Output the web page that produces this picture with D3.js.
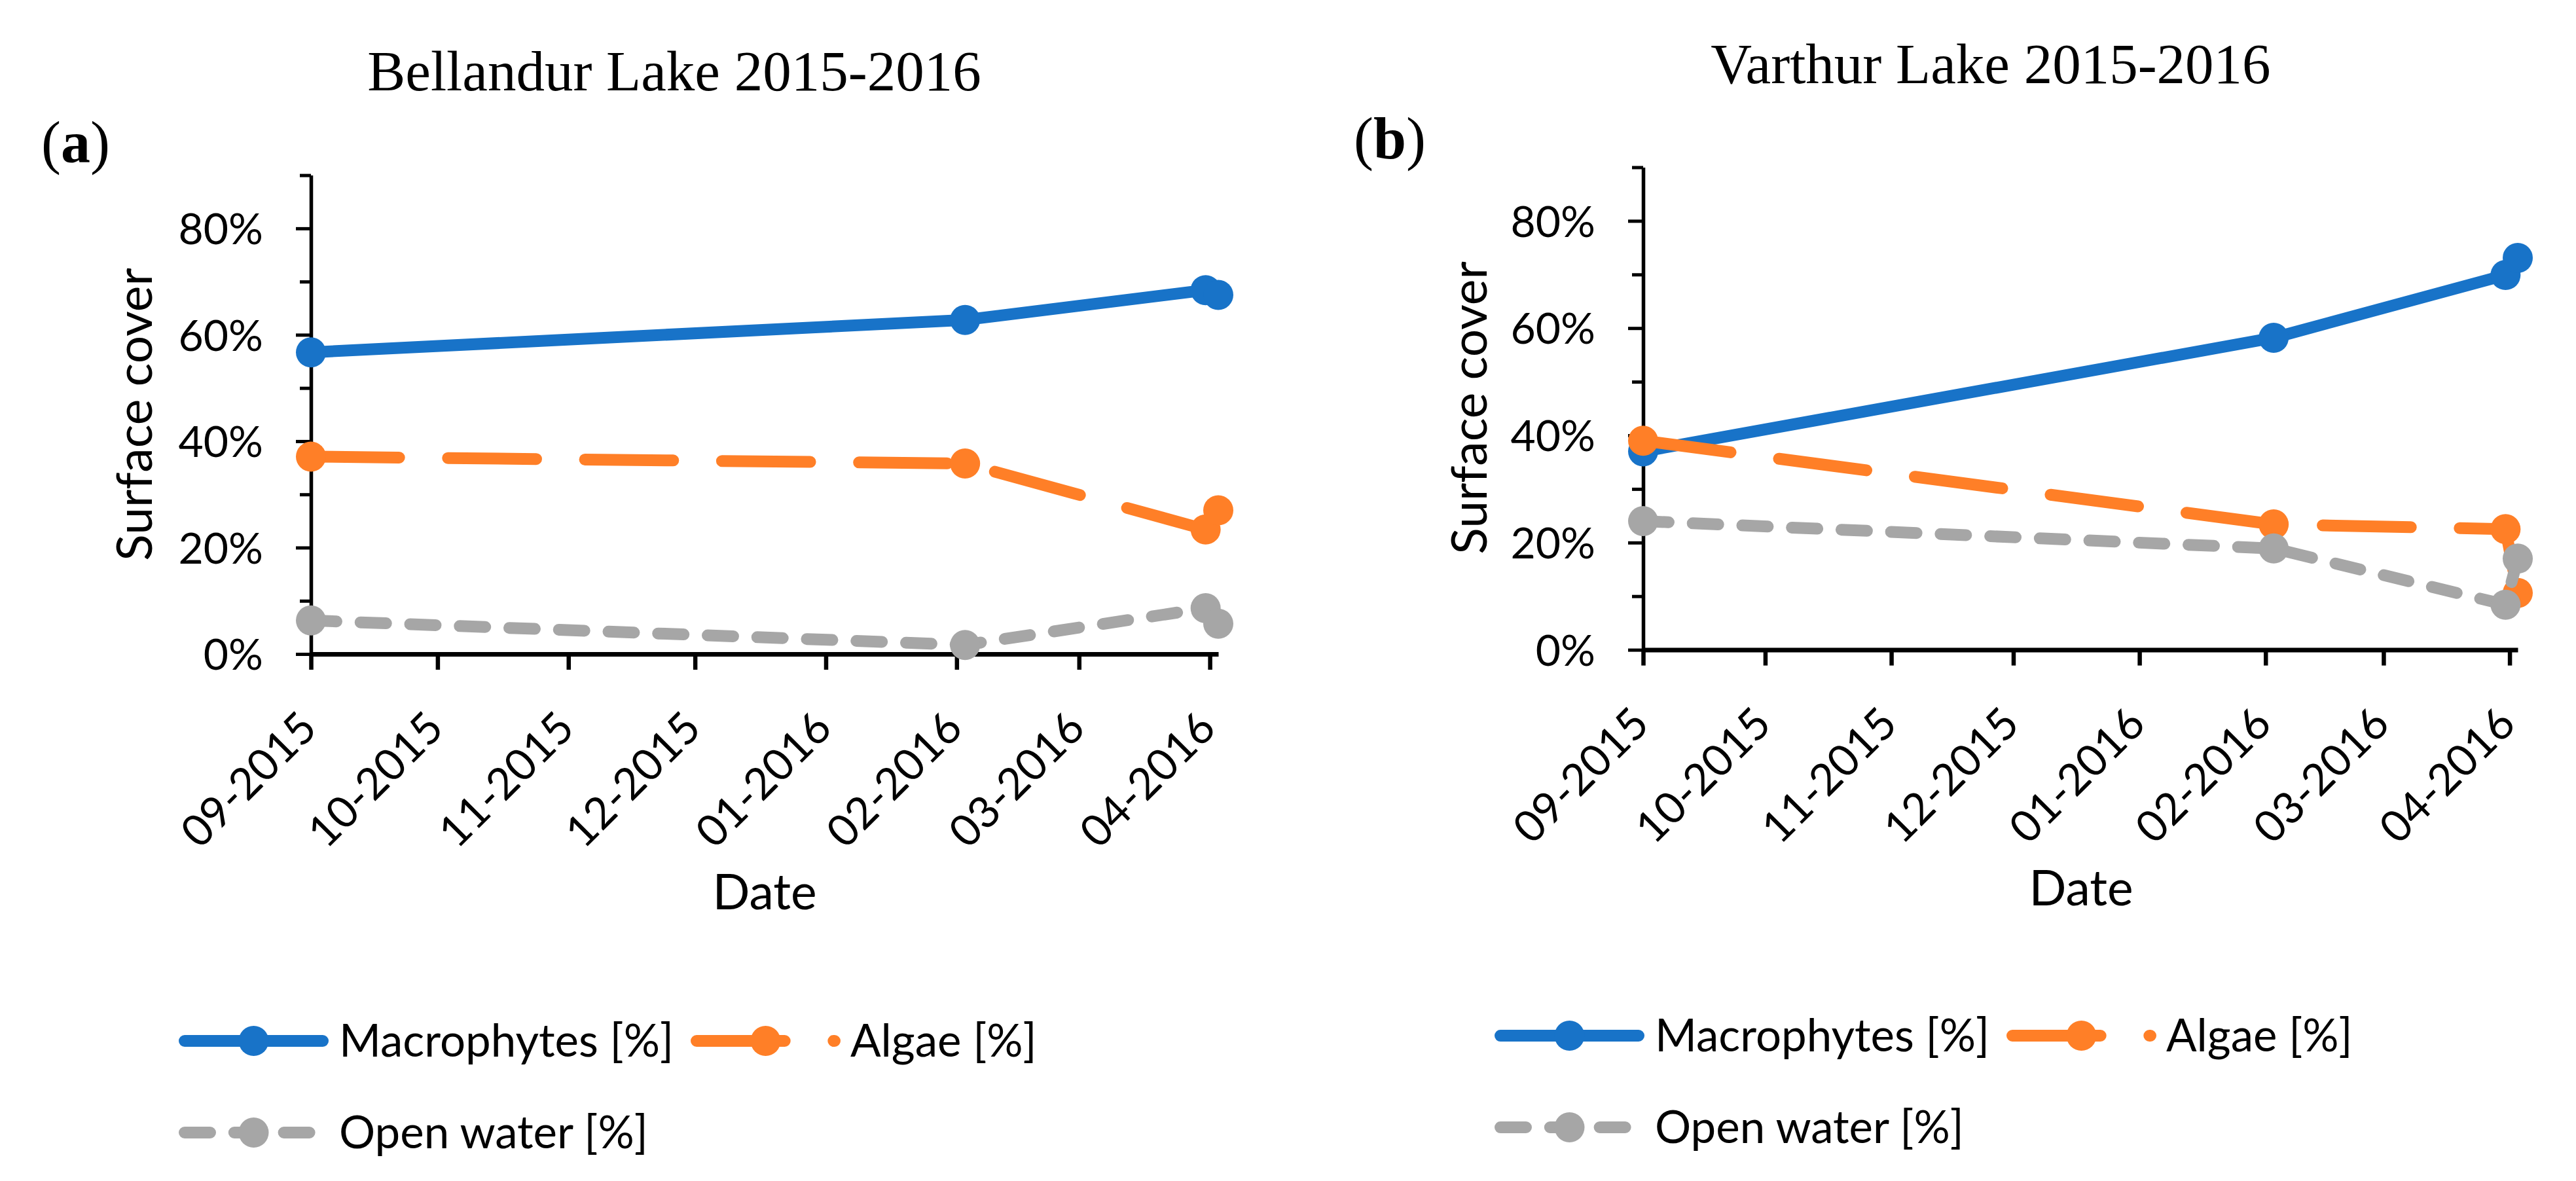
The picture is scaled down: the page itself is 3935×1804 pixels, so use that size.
<!DOCTYPE html>
<html>
<head>
<meta charset="utf-8">
<script src="https://cdn.jsdelivr.net/npm/d3@7"></script>
<style>
  html, body { margin: 0; padding: 0; background: #ffffff; }
  svg { display: block; }
</style>
</head>
<body>
<svg id="chart" width="3935" height="1804"></svg>
<script>
// ---------------- DATA ----------------
const sampleDates = ["2015-09-01", "2016-02-03", "2016-03-31", "2016-04-03"];
const seriesNames = ["Macrophytes [%]", "Algae [%]", "Open water [%]"];

const bellandurMacrophytes = [56.7, 62.8, 68.4, 67.5];
const bellandurAlgae       = [37.1, 35.8, 23.4, 27.0];
const bellandurOpenWater   = [6.3, 1.7, 8.6, 5.7];

const varthurMacrophytes = [37.0, 58.2, 69.9, 73.1];
const varthurAlgae       = [39.0, 23.4, 22.5, 10.6];
const varthurOpenWater   = [24.0, 18.9, 8.4, 17.0];

const panelTitles = ["Bellandur Lake 2015-2016", "Varthur Lake 2015-2016"];
const panelTags = ["a", "b"];

const xTickDates  = ["2015-09-01","2015-10-01","2015-11-01","2015-12-01","2016-01-01","2016-02-01","2016-03-01","2016-04-01"];
const xTickLabels = ["09-2015","10-2015","11-2015","12-2015","01-2016","02-2016","03-2016","04-2016"];
const yMajorTicks = [0, 20, 40, 60, 80];
const yMinorTicks = [10, 30, 50, 70, 90];
const yTickLabels = ["0%", "20%", "40%", "60%", "80%"];
const xAxisTitle = "Date";
const yAxisTitle = "Surface cover";

// ---------------- STYLE / LAYOUT ----------------
const colors = ["#1873C8", "#FF7F27", "#A6A6A6"];
const dashes = [null, "134.7 74.6", "39 36.8"];
const LINE_W = 18, MARK_R = 23;
const SANS = "Lato, 'Open Sans', 'Liberation Sans', sans-serif";
const SERIF = "'Liberation Serif', 'DejaVu Serif', serif";

const panels = [
  { title: panelTitles[0], tag: panelTags[0], series: [bellandurMacrophytes, bellandurAlgae, bellandurOpenWater],
    x0: 475, x1: 1861, y0: 999, yTop: 267.6,
    titleX: 1030, titleY: 138, tagX: 63, tagY: 248,
    yTitleX: 232, yTitleY: 633, xTitleX: 1168, xTitleY: 1389,
    legX: 282, legY1: 1590, legY2: 1730 },
  { title: panelTitles[1], tag: panelTags[1], series: [varthurMacrophytes, varthurAlgae, varthurOpenWater],
    x0: 2510, x1: 3846, y0: 992.6, yTop: 255.5,
    titleX: 3041, titleY: 127, tagX: 2068, tagY: 242,
    yTitleX: 2271, yTitleY: 623, xTitleX: 3179, xTitleY: 1383,
    legX: 2292, legY1: 1582, legY2: 1722 }
];

const parse = d3.timeParse("%Y-%m-%d");
const svg = d3.select("#chart");
svg.append("rect").attr("width", 3935).attr("height", 1804).attr("fill", "#fff");

panels.forEach(p => {
  const g = svg.append("g");
  const x = d3.scaleTime()
    .domain([parse(sampleDates[0]), parse(sampleDates[sampleDates.length - 1])])
    .range([p.x0, p.x1]);
  const y = d3.scaleLinear().domain([0, 90]).range([p.y0, p.yTop]);

  // title
  g.append("text").attr("x", p.titleX).attr("y", p.titleY)
    .attr("text-anchor", "middle").attr("font-family", SERIF).attr("font-size", 87)
    .attr("fill", "#000").text(p.title);
  // tag (a)/(b)
  const tag = g.append("text").attr("x", p.tagX).attr("y", p.tagY)
    .attr("font-family", SERIF).attr("font-size", 90).attr("fill", "#000");
  tag.append("tspan").text("(");
  tag.append("tspan").attr("font-weight", "bold").text(p.tag);
  tag.append("tspan").text(")");

  // y minor ticks
  const yMinor = g.append("g").attr("transform", `translate(${p.x0},0)`)
    .call(d3.axisLeft(y).tickValues(yMinorTicks).tickSize(17).tickSizeOuter(0).tickFormat(""));
  yMinor.select(".domain").remove();
  yMinor.selectAll(".tick line").attr("stroke", "#000").attr("stroke-width", 5);

  // y major axis
  const yAx = g.append("g").attr("transform", `translate(${p.x0},0)`)
    .call(d3.axisLeft(y).tickValues(yMajorTicks).tickSize(23).tickSizeOuter(0).tickPadding(50)
      .tickFormat((d, i) => yTickLabels[i]));
  yAx.select(".domain").attr("stroke", "#000").attr("stroke-width", 5.5);
  yAx.selectAll(".tick line").attr("stroke", "#000").attr("stroke-width", 5);
  yAx.selectAll(".tick text").attr("font-family", SANS).attr("font-size", 66)
    .attr("fill", "#000").attr("dy", "0.36em");

  // x axis
  const xAx = g.append("g").attr("transform", `translate(0,${p.y0})`)
    .call(d3.axisBottom(x).tickValues(xTickDates.map(parse)).tickSize(24).tickSizeOuter(0)
      .tickFormat((d, i) => xTickLabels[i]));
  xAx.select(".domain").attr("stroke", "#000").attr("stroke-width", 7);
  xAx.selectAll(".tick line").attr("stroke", "#000").attr("stroke-width", 6.5);
  xAx.selectAll(".tick text")
    .attr("font-family", SANS).attr("font-size", 67).attr("fill", "#000")
    .attr("x", 0).attr("y", 0).attr("dy", 0)
    .attr("text-anchor", "end")
    .attr("transform", "translate(12,117) rotate(-45)");

  // axis titles
  g.append("text").attr("transform", `translate(${p.yTitleX},${p.yTitleY}) rotate(-90)`)
    .attr("text-anchor", "middle").attr("font-family", SANS).attr("font-size", 75)
    .attr("fill", "#000").text(yAxisTitle);
  g.append("text").attr("x", p.xTitleX).attr("y", p.xTitleY)
    .attr("text-anchor", "middle").attr("font-family", SANS).attr("font-size", 75)
    .attr("fill", "#000").text(xAxisTitle);

  // series
  const line = d3.line().x(d => x(d.date)).y(d => y(d.v));
  p.series.forEach((vals, si) => {
    const pts = vals.map((v, i) => ({ date: parse(sampleDates[i]), v }));
    const path = g.append("path").datum(pts).attr("d", line)
      .attr("fill", "none").attr("stroke", colors[si]).attr("stroke-width", LINE_W)
      .attr("stroke-linecap", "round").attr("stroke-linejoin", "round");
    if (dashes[si]) path.attr("stroke-dasharray", dashes[si]);
    g.selectAll(null).data(pts).enter().append("circle")
      .attr("cx", d => x(d.date)).attr("cy", d => y(d.v)).attr("r", MARK_R)
      .attr("fill", colors[si]);
  });

  // legend
  const legItems = [
    { si: 0, kx: p.legX, ky: p.legY1, tx: p.legX + 236 },
    { si: 1, kx: p.legX + 782, ky: p.legY1, tx: p.legX + 1017 },
    { si: 2, kx: p.legX, ky: p.legY2, tx: p.legX + 236 }
  ];
  const KEY_L = 211;
  legItems.forEach(it => {
    const kp = g.append("path").attr("d", `M${it.kx},${it.ky}H${it.kx + KEY_L}`)
      .attr("fill", "none").attr("stroke", colors[it.si]).attr("stroke-width", LINE_W)
      .attr("stroke-linecap", "round");
    if (dashes[it.si]) kp.attr("stroke-dasharray", dashes[it.si]);
    g.append("circle").attr("cx", it.kx + KEY_L / 2).attr("cy", it.ky).attr("r", MARK_R)
      .attr("fill", colors[it.si]);
    g.append("text").attr("x", it.tx).attr("y", it.ky + 24)
      .attr("font-family", SANS).attr("font-size", 69).attr("fill", "#000")
      .text(seriesNames[it.si]);
  });
});
</script>
</body>
</html>
